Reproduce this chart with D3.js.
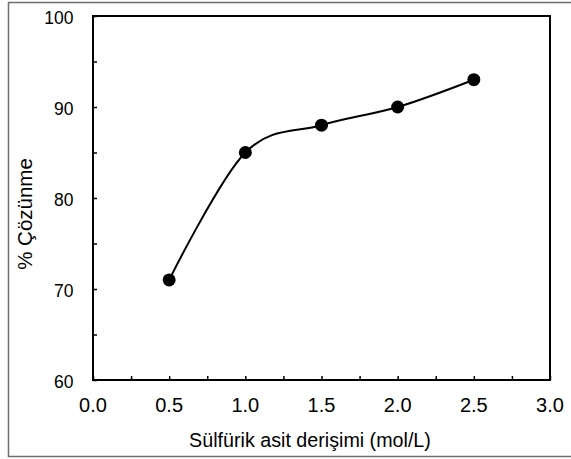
<!DOCTYPE html>
<html><head><meta charset="utf-8">
<script src="https://cdn.jsdelivr.net/npm/d3@7"></script>
<style>body{margin:0;background:#fff}svg{display:block}text{font-family:"Liberation Sans",Arial,sans-serif;fill:#000}</style>
</head><body>
<script>
const concentrations = [0.5, 1.0, 1.5, 2.0, 2.5];
const dissolution = [71, 85, 88, 90, 93];
const xTicks = [0, 0.5, 1.0, 1.5, 2.0, 2.5, 3.0];
const yTicks = [60, 70, 80, 90, 100];
const xLabel = "Sülfürik asit derişimi (mol/L)";
const yLabel = "% Çözünme";

const W = 571, H = 459;
const svg = d3.select("body").append("svg").attr("width", W).attr("height", H);

// outer frame
svg.append("rect").attr("x", 8.5).attr("y", 2.5).attr("width", W).attr("height", 454)
  .attr("fill", "none").attr("stroke", "#6e6e6e").attr("stroke-width", 1.5);

const L = 93, R = 550, T = 16, B = 380;
const x = d3.scaleLinear().domain([0, 3]).range([L, R]);
const y = d3.scaleLinear().domain([60, 100]).range([B, T]);

// plot frame
svg.append("rect").attr("x", L).attr("y", T).attr("width", R - L).attr("height", B - T)
  .attr("fill", "none").attr("stroke", "#000").attr("stroke-width", 2);

// x axis ticks (inside)
const xa = svg.append("g").attr("transform", `translate(0,${B})`)
  .call(d3.axisBottom(x).tickValues(d3.range(0, 3.01, 0.25)).tickSize(-4).tickFormat(""));
xa.select(".domain").remove();
xa.selectAll("line").attr("stroke", "#000").attr("stroke-width", 1.5);
svg.append("g").selectAll("text").data(xTicks).join("text")
  .attr("x", d => x(d)).attr("y", 412).attr("text-anchor", "middle")
  .attr("font-size", 20).text(d => d3.format(".1f")(d));

// y axis ticks (inside)
const ya = svg.append("g").attr("transform", `translate(${L},0)`)
  .call(d3.axisLeft(y).tickValues(d3.range(60, 100.1, 5)).tickSize(-4).tickFormat(""));
ya.select(".domain").remove();
ya.selectAll("line").attr("stroke", "#000").attr("stroke-width", 1.5);
svg.append("g").selectAll("text").data(yTicks).join("text")
  .attr("x", 73.5).attr("y", d => y(d) + 7.5).attr("text-anchor", "end")
  .attr("font-size", 17.5).text(d => d);

// line
const line = d3.line().x(d => x(d[0])).y(d => y(d[1])).curve(d3.curveCardinal.tension(0));
const pts = concentrations.map((c, i) => [c, dissolution[i]]);
svg.append("path").datum(pts).attr("d", line).attr("fill", "none")
  .attr("stroke", "#000").attr("stroke-width", 2);
svg.append("g").selectAll("circle").data(pts).join("circle")
  .attr("cx", d => x(d[0])).attr("cy", d => y(d[1])).attr("r", 6.5).attr("fill", "#000");

// labels
svg.append("text").attr("x", 310).attr("y", 447).attr("text-anchor", "middle")
  .attr("font-size", 19.7).text(xLabel);
svg.append("text").attr("transform", "translate(32,214) rotate(-90)").attr("text-anchor", "middle")
  .attr("font-size", 20.5).text(yLabel);
</script>
</body></html>
